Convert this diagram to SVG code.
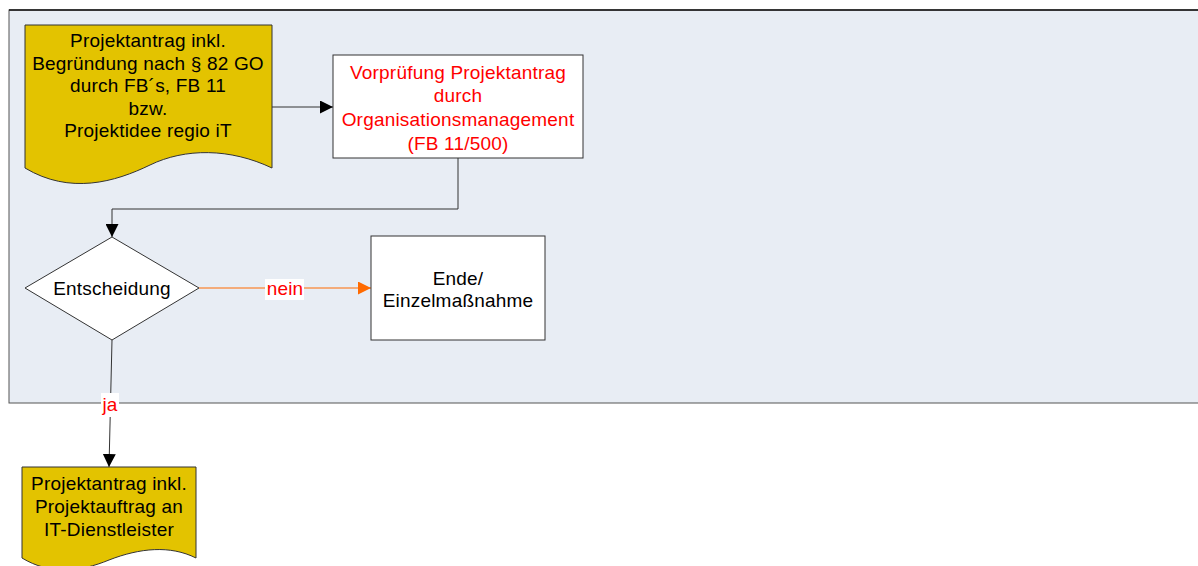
<svg xmlns="http://www.w3.org/2000/svg" width="1198" height="566" viewBox="0 0 1198 566">
  <style>
    text { font-family: "Liberation Sans", Arial, sans-serif; font-size: 19px; letter-spacing: 0.2px; text-anchor: middle; }
    .doc { fill: #e3c300; stroke: #333333; stroke-width: 1; }
    .box { fill: #ffffff; stroke: #333333; stroke-width: 1; }
    .conn { fill: none; stroke: #333333; stroke-width: 1; }
    .orange { fill: none; stroke: #ff6a00; stroke-width: 1; }
    .red { fill: #ff0000; }
    .lblbg { fill: #ffffff; }
  </style>
  <defs>
    <marker id="arrowBlack" viewBox="0 0 10 10" refX="10" refY="5" markerWidth="13" markerHeight="13" markerUnits="userSpaceOnUse" orient="auto">
      <path d="M0,0 L10,5 L0,10 z" fill="#000000"/>
    </marker>
    <marker id="arrowOrange" viewBox="0 0 10 10" refX="10" refY="5" markerWidth="13" markerHeight="13" markerUnits="userSpaceOnUse" orient="auto">
      <path d="M0,0 L10,5 L0,10 z" fill="#ff6a00"/>
    </marker>
  </defs>

  <!-- swimlane background -->
  <g id="lane">
    <rect x="9" y="10" width="1200" height="393" fill="#e8edf4" stroke="#555555" stroke-width="1"/>
    <line x1="9" y1="10" x2="1198" y2="10" stroke="#111111" stroke-width="1.5"/>
  </g>

  <g id="connectors">
    <line class="conn" x1="272" y1="107" x2="333" y2="107" marker-end="url(#arrowBlack)"/>
    <polyline class="conn" points="458,158 458,209 112,209 112,237" marker-end="url(#arrowBlack)"/>
    <line class="orange" x1="199" y1="288" x2="371" y2="288" marker-end="url(#arrowOrange)"/>
    <rect class="lblbg" x="265" y="279" width="39" height="21"/>
    <text x="285" y="295" class="red">nein</text>
    <line class="conn" x1="112" y1="340" x2="109" y2="467" marker-end="url(#arrowBlack)"/>
    <rect class="lblbg" x="101" y="393" width="18" height="24"/>
    <text x="110" y="411" class="red">ja</text>
  </g>

  <g id="antrag">
    <path class="doc" d="M25,25 L272,25 L272,168 C230,148 185,148 150,165 C115,182 70,195 25,168 Z"/>
    <text x="148" y="47">Projektantrag inkl.</text>
    <text x="148" y="70">Begründung nach § 82 GO</text>
    <text x="148" y="92">durch FB´s, FB 11</text>
    <text x="148" y="115">bzw.</text>
    <text x="148" y="137">Projektidee regio iT</text>
  </g>

  <g id="vorpruefung">
    <rect class="box" x="333" y="55" width="250" height="103"/>
    <text x="458" y="79" class="red">Vorprüfung Projektantrag</text>
    <text x="458" y="102" class="red">durch</text>
    <text x="458" y="126" class="red">Organisationsmanagement</text>
    <text x="458" y="150" class="red">(FB 11/500)</text>
  </g>

  <g id="entscheidung">
    <polygon class="box" points="112,237 199,288 112,340 25,288"/>
    <text x="112" y="295">Entscheidung</text>
  </g>

  <g id="ende">
    <rect class="box" x="371" y="236" width="174" height="104"/>
    <text x="458" y="285">Ende/</text>
    <text x="458" y="307">Einzelmaßnahme</text>
  </g>

  <g id="auftrag">
    <path class="doc" d="M22,467 L196,467 L196,558 C170,545 140,548 109,560 C80,572 50,575 22,558 Z"/>
    <text x="109" y="490">Projektantrag inkl.</text>
    <text x="109" y="513">Projektauftrag an</text>
    <text x="109" y="536">IT-Dienstleister</text>
  </g>
</svg>
